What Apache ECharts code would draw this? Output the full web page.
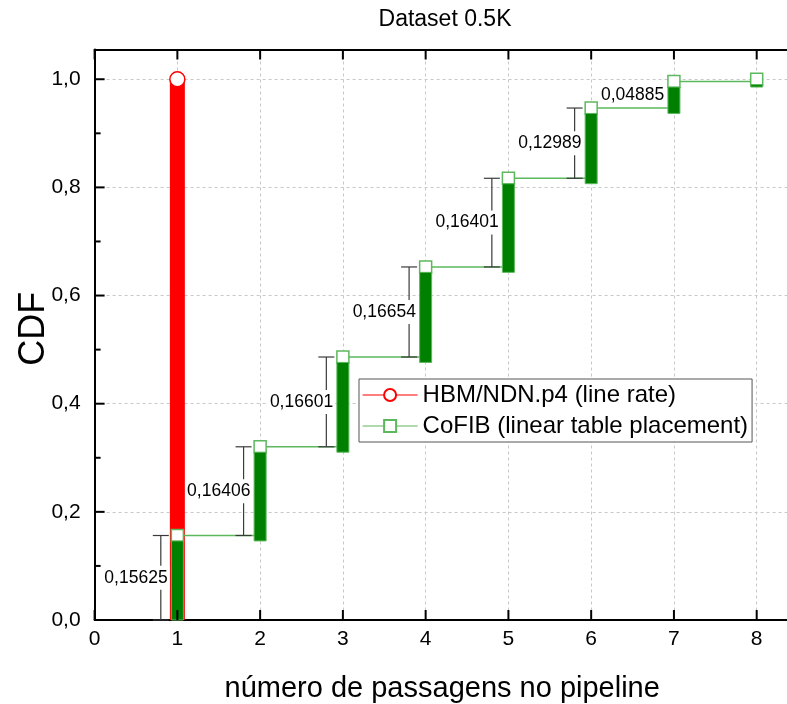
<!DOCTYPE html>
<html>
<head>
<meta charset="utf-8">
<script src="https://cdn.jsdelivr.net/npm/echarts@6/dist/echarts.min.js"></script>
<style>
  html, body { margin: 0; padding: 0; background: #fff; }
  #chart { width: 787px; height: 704px; }
</style>
</head>
<body>
<div id="chart"></div>
<script>
// Number of passes through the pipeline
const passes = [1, 2, 3, 4, 5, 6, 7, 8];
// CoFIB (linear table placement): cumulative share of lookups finished after n passes
const cofibCdf = [0.15625, 0.32031, 0.48632, 0.65286, 0.81687, 0.94676, 0.99561, 1.0];
// Share of lookups finishing exactly at passes 1..7 (annotated increments)
const cofibStep = [0.15625, 0.16406, 0.16601, 0.16654, 0.16401, 0.12989, 0.04885];
// HBM/NDN.p4 (line rate): everything resolved in one pass
const hbmPasses = [1];
const hbmCdf = [1.0];
// Axis ticks
const xTicks = [0, 1, 2, 3, 4, 5, 6, 7, 8];
const yTicks = [0, 0.2, 0.4, 0.6, 0.8, 1.0];
const yMinorTicks = [0.1, 0.3, 0.5, 0.7, 0.9];

const FONT = '"Liberation Sans", Arial, Helvetica, sans-serif';
const GREEN_DARK = '#008000';
const GREEN_LIGHT = '#5cb85c';
const RED = '#ff0000';
const BAR_SHIFT = 0.01;   // increment columns sit just below the step level
const X_MAX = 8.4;
const Y_MAX = 1.055;

const chart = echarts.init(document.getElementById('chart'), null, { renderer: 'canvas' });

const fmtComma = (v, d) => v.toFixed(d).replace('.', ',');

// Increment columns: from the previous CDF level up to the current one
const cofibColumns = passes.map((x, i) => [x, i === 0 ? 0 : cofibCdf[i - 1], cofibCdf[i]]);
// Brackets: start level and size of each increment
const bracketData = cofibStep.map((s, i) => [passes[i], i === 0 ? 0 : cofibCdf[i - 1], s]);
const hbmColumns = hbmPasses.map((x, i) => [x, 0, hbmCdf[i]]);
// Tick marks: [kind, value]; 0 = x (bottom and top), 1 = y major, 2 = y minor
const tickData = []
  .concat(xTicks.map(v => [0, v]))
  .concat(yTicks.map(v => [1, v]))
  .concat(yMinorTicks.map(v => [2, v]));

function columnRenderer(width, fill, stroke, shift) {
  return function (params, api) {
    const x = api.value(0);
    const lo = Math.max(0, api.value(1) - shift);
    const hi = api.value(2) - shift;
    const pLo = api.coord([x, lo]);
    const pHi = api.coord([x, hi]);
    return {
      type: 'rect',
      shape: { x: pLo[0] - width / 2, y: pHi[1], width: width, height: pLo[1] - pHi[1] },
      style: { fill: fill, stroke: stroke, lineWidth: stroke ? 1 : 0 }
    };
  };
}

function bracketRenderer(params, api) {
  const x = api.value(0);
  const lo = api.value(1);
  const size = api.value(2);
  const hi = lo + size;
  const pLo = api.coord([x - 0.2, lo]);
  const pHi = api.coord([x - 0.2, hi]);
  const pLab = api.coord([x - 0.5, lo + size / 2]);
  const children = [];
  const cap = 8;
  if (pLo[1] - pHi[1] > 32) {
    const st = { stroke: '#3a3a3a', lineWidth: 1.2 };
    children.push(
      { type: 'line', shape: { x1: pLo[0], y1: pLo[1], x2: pHi[0], y2: pHi[1] }, style: st },
      { type: 'line', shape: { x1: pLo[0] - cap, y1: pLo[1], x2: pLo[0] + cap, y2: pLo[1] }, style: st },
      { type: 'line', shape: { x1: pHi[0] - cap, y1: pHi[1], x2: pHi[0] + cap, y2: pHi[1] }, style: st }
    );
  }
  children.push({
    type: 'text',
    x: pLab[0],
    y: pLab[1],
    style: {
      text: fmtComma(size, 5),
      align: 'center',
      verticalAlign: 'middle',
      font: '17.5px ' + FONT,
      fill: '#000',
      backgroundColor: '#fff',
      padding: [3, 2]
    }
  });
  return { type: 'group', children: children };
}

// Inward tick marks on the left, bottom and top frame lines
function tickRenderer(params, api) {
  const kind = api.value(0);
  const v = api.value(1);
  const st = { stroke: '#000', lineWidth: 2 };
  if (kind === 0) {
    const b = api.coord([v, 0]);
    const t = api.coord([v, Y_MAX]);
    return {
      type: 'group',
      children: [
        { type: 'line', shape: { x1: b[0], y1: b[1], x2: b[0], y2: b[1] - 10 }, style: st },
        { type: 'line', shape: { x1: t[0], y1: t[1], x2: t[0], y2: t[1] + 10 }, style: st }
      ]
    };
  }
  const p = api.coord([0, v]);
  const len = kind === 1 ? 10 : 6;
  return { type: 'line', shape: { x1: p[0], y1: p[1], x2: p[0] + len, y2: p[1] }, style: st };
}

const axisLineStyle = { color: '#000', width: 2 };
const gridLine = { show: true, lineStyle: { color: '#c8c8c8', width: 1, type: [3, 3] } };

chart.setOption({
  animation: false,
  backgroundColor: '#fff',
  title: {
    text: 'Dataset 0.5K',
    left: 440,
    top: 3,
    textAlign: 'center',
    textStyle: { fontFamily: FONT, fontSize: 23, fontWeight: 'normal', color: '#000' }
  },
  legend: {
    orient: 'vertical',
    left: 359,
    top: 379,
    data: ['HBM/NDN.p4 (line rate)', 'CoFIB (linear table placement)'],
    itemWidth: 55,
    itemHeight: 15,
    itemGap: 7,
    padding: [4, 4, 4, 3],
    backgroundColor: '#fff',
    borderColor: '#555',
    borderWidth: 1,
    borderRadius: 0,
    lineStyle: { width: 1.2 },
    textStyle: { fontFamily: FONT, fontSize: 24, color: '#000' }
  },
  grid: {
    left: 94.6, right: -2.8, top: 49.5, bottom: 84,
    containLabel: false,
    outerBoundsMode: 'none'
  },
  xAxis: [
    {
      type: 'value', min: 0, max: X_MAX, interval: 1, position: 'bottom',
      name: 'número de passagens no pipeline',
      nameLocation: 'middle', nameGap: 54, nameMoveOverlap: false,
      nameTextStyle: { fontFamily: FONT, fontSize: 29, color: '#000' },
      axisLine: { show: true, onZero: false, lineStyle: axisLineStyle },
      axisTick: { show: false },
      axisLabel: { showMaxLabel: false, fontFamily: FONT, fontSize: 21, color: '#000', margin: 9 },
      splitLine: gridLine
    },
    {
      type: 'value', min: 0, max: X_MAX, interval: 1, position: 'top',
      axisLine: { show: true, onZero: false, lineStyle: axisLineStyle },
      axisTick: { show: false },
      axisLabel: { show: false },
      splitLine: { show: false }
    }
  ],
  yAxis: [
    {
      type: 'value', min: 0, max: Y_MAX, interval: 0.2, position: 'left',
      name: 'CDF',
      nameLocation: 'middle', nameGap: 43, nameMoveOverlap: false,
      nameTextStyle: { fontFamily: FONT, fontSize: 36, color: '#000', padding: [0, 0, 0, 12] },
      axisLine: { show: true, onZero: false, lineStyle: axisLineStyle },
      axisTick: { show: false },
      axisLabel: {
        showMaxLabel: false, fontFamily: FONT, fontSize: 21, color: '#000', margin: 14,
        formatter: v => fmtComma(v, 1)
      },
      splitLine: gridLine
    }
  ],
  series: [
    {
      name: 'hbm-column',
      type: 'custom',
      z: 1,
      silent: true,
      renderItem: columnRenderer(15, RED, null, 0),
      data: hbmColumns,
      encode: { x: 0, y: [1, 2] }
    },
    {
      name: 'CoFIB (linear table placement)',
      type: 'line',
      z: 2,
      step: 'end',
      data: passes.map((x, i) => [x, cofibCdf[i]]),
      symbol: 'rect',
      symbolSize: 12,
      showAllSymbol: true,
      lineStyle: { color: GREEN_LIGHT, width: 1.5 },
      itemStyle: { color: '#fff', borderColor: GREEN_LIGHT, borderWidth: 1.5 }
    },
    {
      name: 'cofib-column',
      type: 'custom',
      z: 3,
      silent: true,
      renderItem: columnRenderer(12, GREEN_DARK, GREEN_LIGHT, BAR_SHIFT),
      data: cofibColumns,
      encode: { x: 0, y: [1, 2] }
    },
    {
      name: 'HBM/NDN.p4 (line rate)',
      type: 'line',
      z: 4,
      data: hbmPasses.map((x, i) => [x, hbmCdf[i]]),
      symbol: 'circle',
      symbolSize: 15,
      showAllSymbol: true,
      lineStyle: { color: RED, width: 1 },
      itemStyle: { color: '#fff', borderColor: RED, borderWidth: 1.5 }
    },
    {
      name: 'increments',
      type: 'custom',
      z: 5,
      silent: true,
      renderItem: bracketRenderer,
      data: bracketData,
      encode: { x: 0, y: 1 }
    },
    {
      name: 'ticks',
      type: 'custom',
      z: 6,
      silent: true,
      clip: false,
      renderItem: tickRenderer,
      data: tickData,
      encode: { x: 1, y: 1 }
    }
  ]
});
</script>
</body>
</html>
